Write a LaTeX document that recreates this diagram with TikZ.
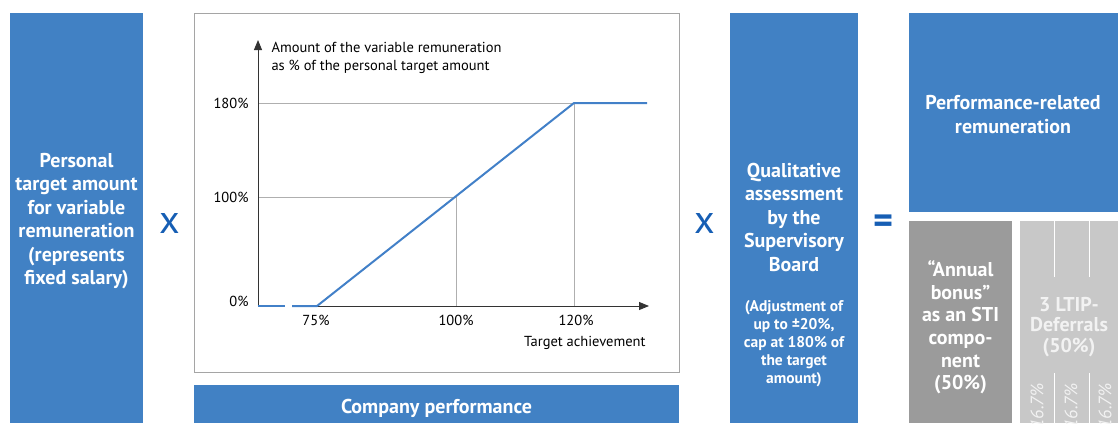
\documentclass[tikz,border=0pt]{standalone}
\usepackage{fontspec}
\setmainfont{PT Sans}
\usetikzlibrary{arrows.meta}
\definecolor{boxblue}{RGB}{65,129,196}
\definecolor{signblue}{RGB}{22,94,180}
\definecolor{lineblue}{RGB}{66,128,200}
\definecolor{framegray}{RGB}{165,165,165}
\definecolor{gridgray}{RGB}{175,175,175}
\definecolor{darkgray}{RGB}{155,155,155}
\definecolor{lightgray}{RGB}{200,200,200}
\definecolor{paletext}{RGB}{242,242,242}
\tikzset{
  bluebox/.style={fill=boxblue, draw=none},
  bigtxt/.style={text=white, font=\fontsize{20}{23.5}\selectfont\bfseries, align=center},
  smalltxt/.style={text=white, font=\fontsize{15.5}{18}\selectfont\bfseries, align=center},
  charttxt/.style={text=black, font=\fontsize{14.5}{18}\selectfont},
  sign/.style={text=signblue, font=\fontsize{40}{40}\selectfont},
  grid/.style={draw=gridgray, line width=0.6pt},
  axis/.style={draw=black!80, line width=1pt, -{Triangle[length=10pt,width=8pt]}},
  curve/.style={draw=lineblue, line width=2pt},
  pct/.style={text=paletext, font=\fontsize{18}{18}\selectfont\itshape, rotate=90, anchor=east}
}
\begin{document}
\begin{tikzpicture}[x=1pt,y=-1pt]
\useasboundingbox (0,0) rectangle (1118,423);
% left box
\fill[bluebox] (10,13) rectangle (143,423);
\node[bigtxt] (personal) at (76.5,221) {Personal\\target amount\\for variable\\remuneration\\(represents\\fixed salary)};
\node[sign] (x1) at (170,223) {x};
% chart frame
\draw[framegray, line width=0.8pt] (194,13) rectangle (679,372);
\fill[bluebox] (194,385) rectangle (679,423);
\node[bigtxt] (company) at (436.5,408) {Company performance};
% chart
\coordinate (o) at (258,306);
\coordinate (ytop) at (258,40);
\coordinate (xstart) at (317,306);
\coordinate (xend) at (649,306);
\draw[grid] (258,103) -- (574,103);
\draw[grid] (258,197) -- (456,197);
\draw[grid] (456,197) -- (456,306);
\draw[grid] (574,103) -- (574,306);
\draw[axis] (o) -- (ytop);
\draw[axis] (xstart) -- (xend);
\draw[curve] (257.5,306) -- (285,306);
\draw[curve] (292,306) -- (317,306) -- (574,103) -- (647,103);
\node[charttxt, anchor=west, align=left] (ytitle) at (268,58) {Amount of the variable remuneration\\as \% of the personal target amount};
\node[charttxt, anchor=east] (l180) at (252,103) {180\%};
\node[charttxt, anchor=east] (l100) at (252,197) {100\%};
\node[charttxt, anchor=east] (l0) at (252,301) {0\%};
\node[charttxt] (t75) at (316,320) {75\%};
\node[charttxt] (t100) at (456,320) {100\%};
\node[charttxt] (t120) at (576,320) {120\%};
\node[charttxt, anchor=east] (xtitle) at (649,343) {Target achievement};
% second sign
\node[sign] (x2) at (705,223) {x};
% qualitative box
\fill[bluebox] (730,13) rectangle (858,423);
\node[bigtxt] (qual) at (794,217) {Qualitative\\assessment\\by the\\Supervisory\\Board};
\node[smalltxt] (adj) at (794,343.5) {(Adjustment of\\up to ±20\%,\\cap at 180\% of\\the target\\amount)};
% equals
\node[sign, font=\fontsize{38}{38}\selectfont\bfseries] (eq) at (883,224) {=};
% result
\fill[bluebox] (909,13) rectangle (1118,212);
\node[bigtxt] (perf) at (1013,114.5) {Performance-related\\remuneration};
\fill[darkgray] (909,221) rectangle (1012,423);
\node[bigtxt, font=\fontsize{20}{22.6}\selectfont\bfseries] (annual) at (960.5,327.5) {“Annual\\bonus”\\as an STI\\compo-\\nent\\(50\%)};
\fill[lightgray] (1020,221) rectangle (1118,423);
\draw[white, line width=1pt] (1054,221) -- (1054,277);
\draw[white, line width=1pt] (1089,221) -- (1089,277);
\draw[white, line width=1pt] (1054,373) -- (1054,423);
\draw[white, line width=1pt] (1089,373) -- (1089,423);
\node[bigtxt, text=paletext, font=\fontsize{20}{20.5}\selectfont\bfseries] (ltip) at (1069,327) {3 LTIP-\\Deferrals\\(50\%)};
\node[pct] (p1) at (1037,380) {16.7\%};
\node[pct] (p2) at (1071,380) {16.7\%};
\node[pct] (p3) at (1105,380) {16.7\%};
\end{tikzpicture}
\end{document}
